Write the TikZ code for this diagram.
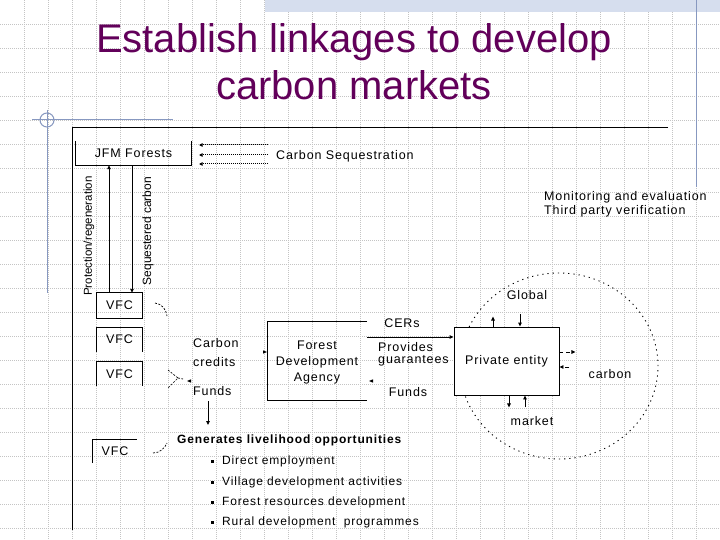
\documentclass[tikz,border=0pt]{standalone}
\usepackage{fontspec}
\setmainfont{Liberation Sans}
\newfontfamily\dfont[LetterSpace=7]{Liberation Sans}
\usetikzlibrary{arrows.meta}
\definecolor{titlepurple}{RGB}{98,0,90}
\definecolor{deco}{RGB}{135,152,192}
\definecolor{band}{RGB}{214,222,238}
\definecolor{gridc}{RGB}{196,196,196}
\begin{document}
\begin{tikzpicture}[x=1pt,y=-1pt,
  gridline/.style={gridc,line width=0.5pt,dash pattern=on 0.7pt off 1.3pt},
  decoline/.style={deco,line width=1pt},
  ln/.style={black,line width=0.9pt},
  tip/.style={ln,-{Triangle[length=4pt,width=3.6pt]}},
  dotarrow/.style={black,line width=1pt,dash pattern=on 1pt off 1pt,-{Triangle[length=3.5pt,width=3.4pt]}},
  dsh/.style={black,line width=0.7pt,dash pattern=on 2pt off 1.5pt},
  circ/.style={black,line width=0.9pt,dash pattern=on 1.2pt off 4pt},
  txt/.style={font=\dfont\fontsize{12.5}{14}\selectfont,inner sep=0pt},
  rtxt/.style={font=\fontsize{11.5}{13}\selectfont,inner sep=0pt,rotate=90},
  ttl/.style={font=\fontsize{40}{44}\selectfont,text=titlepurple,inner sep=0pt,anchor=base},
  vfcbox/.style={minimum width=45pt,minimum height=24pt,inner sep=0pt,font=\dfont\fontsize{12.5}{14}\selectfont}
]
\useasboundingbox (0,0) rectangle (720,540);
\fill[white] (0,0) rectangle (720,540);
% background grid
\foreach \i in {24,48,...,696} \draw[gridline] (\i,0) -- (\i,540);
\foreach \j in {24,48,...,528} \draw[gridline] (0,\j) -- (720,\j);
\fill[band] (265,0) rectangle (720,12);
\draw[decoline] (696,0) -- (696,187);
\draw[decoline] (32,120) -- (173,120);
\draw[decoline] (47,110) -- (47,293);
\draw[decoline] (47,120) circle[radius=7pt];
% title
\node[ttl] (t1) at (354,53) {Establish linkages to develop};
\node[ttl] (t2) at (354,100) {carbon markets};
% frame
\draw[ln] (668,127) -- (72,127) -- (72,530);
% JFM forests
\node[vfcbox,minimum width=115pt] (jfm) at (133.5,153) {JFM Forests};
\draw[ln] (jfm.north west) -- (jfm.south west) -- (jfm.south east) -- (jfm.north east);
\node[txt,anchor=west] (cs) at (276,156) {Carbon Sequestration};
\coordinate (c1) at (268,145); \coordinate (c2) at (268,155); \coordinate (c3) at (268,164);
\draw[dotarrow] (c1) -- (199,145);
\draw[dotarrow] (c2) -- (199,155);
\draw[dotarrow] (c3) -- (199,164);
\node[txt,anchor=west,align=left] (me) at (544,197) {Monitoring and evaluation};
\node[txt,anchor=west] (tp) at (544,211) {Third party verification};
% VFC boxes
\node[vfcbox,minimum height=25pt] (v1) at (119.5,305.5) {VFC};
\draw[ln] (v1.north west) rectangle (v1.south east);
\node[vfcbox] (v2) at (119.5,339.5) {VFC};
\draw[ln] (v2.south west) -- (v2.north west) -- (v2.north east) -- (v2.south east);
\node[vfcbox] (v3) at (119.5,374) {VFC};
\draw[ln] (v3.south west) -- (v3.north west) -- (v3.north east) -- (v3.south east);
\node[vfcbox,minimum width=44pt,minimum height=23pt] (v4) at (115,451.5) {VFC};
\draw[ln] (v4.south west) -- (v4.north west) -- (v4.north east);
% vertical arrows
\draw[tip] ([xshift=-10.5pt]v1.north) -- ([xshift=-10.5pt]v1.north |- jfm.south);
\draw[tip] ([xshift=12.5pt]v1.north |- jfm.south) -- ([xshift=12.5pt]v1.north);
\node[rtxt] (pr) at (89,236) {Protection/regeneration};
\node[rtxt,font=\fontsize{12}{13}\selectfont] (sc) at (148,231) {Sequestered carbon};
% dashed curves
\draw[dsh] (155,303) .. controls (162,304) and (166,309) .. (167,316);
\draw[dsh] (168,370) -- (178,378) -- (168,388);
\draw[dsh] (178,378) -- (183,379);
\draw[dsh] (153,453) .. controls (160,453) and (165,448) .. (167,443);
% carbon credits / funds
\node[txt,anchor=west] (cc1) at (193,343) {Carbon};
\node[txt,anchor=west] (cc2) at (193,362) {credits};
\node[txt,anchor=west] (f1) at (193,391) {Funds};
\fill (187,381) -- (191,379.3) -- (191,382.7) -- cycle;
\draw[tip] (208,401) -- (208,425);
% FDA
\node[minimum width=99pt,minimum height=78pt,inner sep=0pt] (fda) at (317.5,361) {};
\draw[ln] (fda.north east) -- (fda.north west) -- (fda.south west) -- (fda.south east);
\node[txt,align=center] (fdat) at (317,362.5) {Forest\\[1.8pt]Development\\[1.8pt]Agency};
\fill (267,352) -- (263,350.3) -- (263,353.7) -- cycle;
\fill (369,381) -- (373,379.3) -- (373,382.7) -- cycle;
% middle labels
\node[txt] (cers) at (402,323) {CERs};
\node[txt,anchor=west] (pg1) at (378,347) {Provides};
\node[txt,anchor=west] (pg2) at (378,361) {guarantees};
\node[txt] (f2) at (408,392) {Funds};
% global carbon market circle
\draw[circ] (559,366) ellipse[x radius=99pt,y radius=93pt];
% private entity
\node[draw,ln,fill=white,minimum width=105pt,minimum height=68pt,inner sep=0pt,font=\dfont\fontsize{12.5}{14}\selectfont] (pe) at (506.5,361) {Private entity};
\draw[tip] (fda.north east |- 0,337) -- (pe.west |- 0,337);
\draw[tip] (pe.north -| 493,0) -- ++(0,-10);
\draw[tip] (520,314) -- (pe.north -| 520,0);
\draw[tip] (pe.south -| 509,0) -- ++(0,12);
\draw[tip] (525,407) -- (pe.south -| 525,0);
\draw[tip,dash pattern=on 4pt off 3pt] (pe.east |- 0,352) -- ++(16,0);
\draw[tip,dash pattern=on 4pt off 3pt] (569,367) -- (pe.east |- 0,367);
\node[txt] (gl) at (527,295) {Global};
\node[txt] (cb) at (610,374) {carbon};
\node[txt] (mk) at (532,421) {market};
% livelihood
\node[txt,anchor=west,font=\dfont\bfseries\fontsize{12}{14}\selectfont] (gen) at (177,440) {Generates livelihood opportunities};
\foreach \y/\t [count=\k] in {461/Direct employment,482/Village development activities,502/Forest resources development,522/Rural development\ \ programmes}{
  \fill (211,\y-1.5) rectangle (213.5,\y+1.5);
  \node[txt,anchor=west,font=\dfont\fontsize{12}{14}\selectfont] (b\k) at (222,\y) {\t};
}
\end{tikzpicture}
\end{document}
